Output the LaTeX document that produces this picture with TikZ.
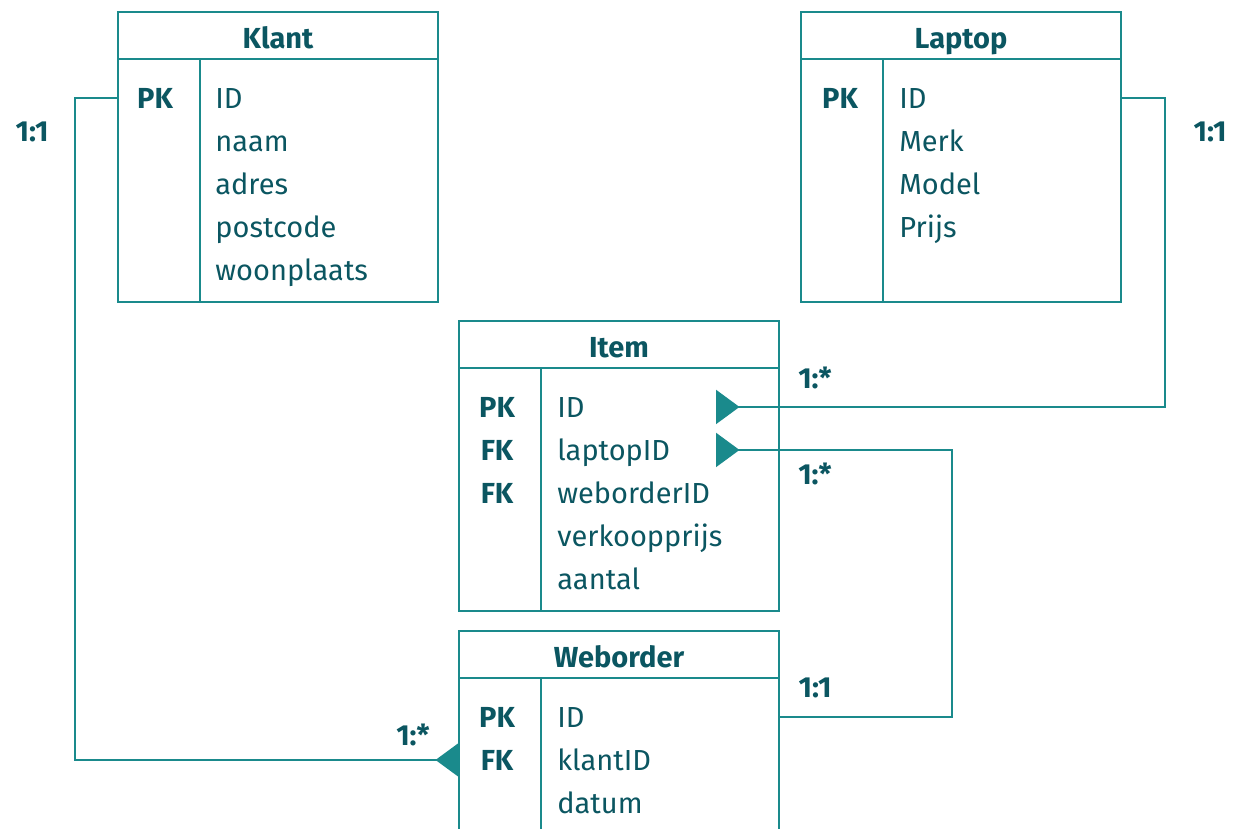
\documentclass[tikz,border=0pt]{standalone}
\usepackage{fontspec}
\setmainfont{Fira Sans}
\usetikzlibrary{positioning,arrows.meta}
\definecolor{erline}{HTML}{1A8A8C}
\definecolor{ertext}{HTML}{0B5661}
\tikzset{table node/.style={draw=erline, line width=1.2pt, minimum width=6.4cm, inner sep=0pt, outer sep=0pt},
  head node/.style={table node, minimum height=0.94cm},
  body node/.style={table node, minimum height=4.86cm},
  title node/.style={font=\fontsize{16.5}{20}\selectfont\bfseries, text=ertext, inner sep=0pt, anchor=base},
  key node/.style={font=\fontsize{16.5}{20}\selectfont\bfseries, text=ertext, inner sep=0pt, anchor=base},
  field node/.style={text=ertext, inner sep=0pt, anchor=base west},
  card node/.style={font=\fontsize{16.5}{20}\selectfont\bfseries, text=ertext},
  table line/.style={draw=erline, line width=1.2pt},
  link/.style={table line, -{Triangle[reversed, length=0.47cm, width=0.68cm]}},}

\begin{document}
\begin{tikzpicture}[font=\fontsize{16.5}{20}\selectfont]
\path[use as bounding box, clip] (0,0) rectangle (24.74,-16.56);

% tables
\node[head node] (klanthead) at (5.56,-0.71) {};
\node[body node, below=0pt of klanthead] (klantbody) {};
\node[head node] (laptophead) at (19.22,-0.71) {};
\node[body node, below=0pt of laptophead] (laptopbody) {};
\node[head node] (itemhead) at (12.38,-6.89) {};
\node[body node, below=0pt of itemhead] (itembody) {};
\node[head node] (weborderhead) at (12.38,-13.09) {};
\node[body node, below=0pt of weborderhead] (weborderbody) {};

\foreach \t/\n in {klant/Klant,laptop/Laptop,item/Item,weborder/Weborder}{
  \node[title node] (\t title) at ([yshift=-0.72cm]\t head.north) {\n};
  \draw[table line] ([xshift=1.64cm]\t body.north west) -- ([xshift=1.64cm]\t body.south west);
}

% keys
\node[key node] (klantpk) at ([xshift=0.74cm,yshift=-0.98cm]klantbody.north west) {PK};
\node[key node] (laptoppk) at ([xshift=0.78cm,yshift=-0.98cm]laptopbody.north west) {PK};
\node[key node] (itempk) at ([xshift=0.76cm,yshift=-0.98cm]itembody.north west) {PK};
\node[key node] (itemfka) at ([xshift=0.76cm,yshift=-1.84cm]itembody.north west) {FK};
\node[key node] (itemfkb) at ([xshift=0.76cm,yshift=-2.70cm]itembody.north west) {FK};
\node[key node] (weborderpk) at ([xshift=0.76cm,yshift=-0.98cm]weborderbody.north west) {PK};
\node[key node] (weborderfk) at ([xshift=0.76cm,yshift=-1.84cm]weborderbody.north west) {FK};

% fields
\foreach \f [count=\i from 0] in {ID,naam,adres,postcode,woonplaats}
  \node[field node] (klantf\i) at ([xshift=1.94cm,yshift={-0.98cm-\i*0.86cm}]klantbody.north west) {\f};
\foreach \f [count=\i from 0] in {ID,Merk,Model,Prijs}
  \node[field node] (laptopf\i) at ([xshift=1.96cm,yshift={-0.98cm-\i*0.86cm}]laptopbody.north west) {\f};
\foreach \f [count=\i from 0] in {ID,laptopID,weborderID,verkoopprijs,aantal}
  \node[field node] (itemf\i) at ([xshift=1.96cm,yshift={-0.98cm-\i*0.86cm}]itembody.north west) {\f};
\foreach \f [count=\i from 0] in {ID,klantID,datum}
  \node[field node] (weborderf\i) at ([xshift=1.96cm,yshift={-0.98cm-\i*0.86cm}]weborderbody.north west) {\f};

% relations
\draw[link] (klantbody.west |- klantpk) -- ++(-0.86,0) |- (weborderbody.west |- weborderfk);
\draw[link] (laptopbody.east |- laptoppk) -- ++(0.88,0) |- ([xshift=5.14cm]itembody.west |- itempk);
\draw[link] (weborderbody.east |- weborderpk) -- ++(3.46,0) |- ([xshift=5.14cm]itembody.west |- itemfka);

\node[card node] (cardklant) at (0.64,-2.64) {1:1};
\node[card node] (cardlaptop) at (24.20,-2.64) {1:1};
\node[card node] (carditemid) at (16.30,-7.56) {1:*};
\node[card node] (carditemlaptop) at (16.30,-9.48) {1:*};
\node[card node] (cardweborder) at (16.30,-13.76) {1:1};
\node[card node] (cardweborderklant) at (8.26,-14.70) {1:*};
\end{tikzpicture}
\end{document}
